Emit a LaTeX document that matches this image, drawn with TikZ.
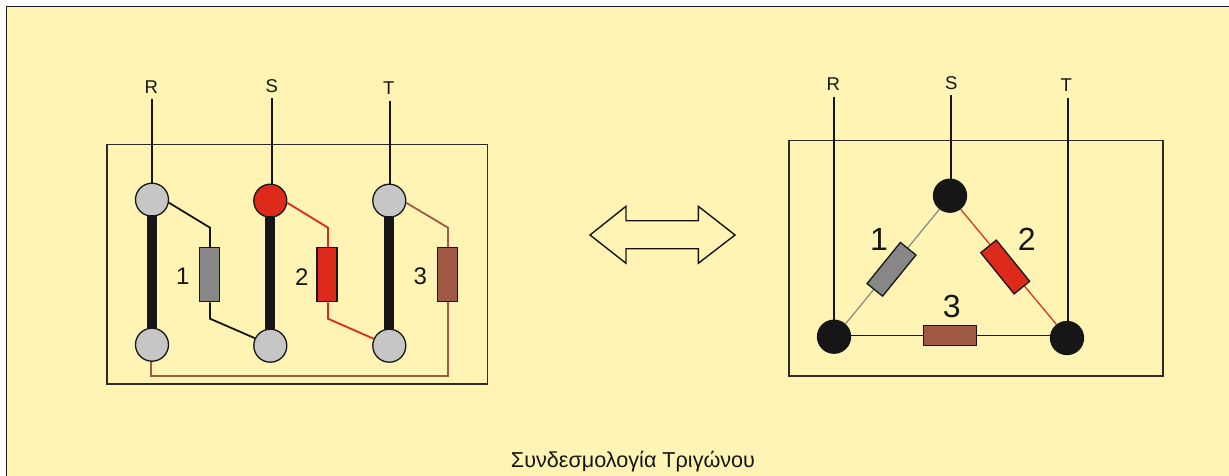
\documentclass[tikz,border=0pt]{standalone}
\usepackage{fontspec}
\setmainfont{Liberation Sans}
\definecolor{bgy}{HTML}{FFF4B3}
\definecolor{ink}{HTML}{161616}
\definecolor{lgray}{HTML}{C6C6C6}
\definecolor{mgray}{HTML}{878787}
\definecolor{myred}{HTML}{DE2A1A}
\definecolor{mybrown}{HTML}{A05A44}
\newcommand{\fs}[1]{\fontsize{#1}{#1}\selectfont}
\tikzset{
  x=1pt,y=-1pt,
  frame/.style={draw=ink!90!bgy,line width=1.6pt},
  term/.style={circle,draw=ink,line width=1.3pt,inner sep=0pt,minimum size=33pt},
  termg/.style={term,fill=lgray},
  termr/.style={term,fill=myred},
  termk/.style={term,fill=ink},
  res/.style={draw=ink,line width=1.3pt,inner sep=0pt,minimum width=20pt,minimum height=54pt},
  wire/.style={line width=1.8pt,draw=ink,line join=miter},
  thin wire/.style={line width=1.2pt},
  bar/.style={draw=ink,line width=10pt,shorten <=-2pt},
  lab/.style={inner sep=0pt,text=ink,font=\fs{18.5}},
  numl/.style={inner sep=0pt,text=ink,font=\fs{24}},
  numr/.style={inner sep=0pt,text=ink,font=\fs{32}},
}
\begin{document}
\begin{tikzpicture}
\useasboundingbox (0,0) rectangle (1229,476);
\fill[white] (0,0) rectangle (1229,476);
\fill[bgy] (6.5,6.5) rectangle (1229,476);
\draw[ink,line width=1.4pt] (6.5,476) -- (6.5,6.5) -- (1229,6.5);

% left panel
\draw[frame] (106.7,144.7) rectangle (487.3,384);
\node[lab] (lR) at (151.3,87.3) {R};
\node[lab] (lS) at (271.7,86) {S};
\node[lab] (lT) at (388.7,88) {T};
\coordinate (iR) at (152.3,99.3);
\coordinate (iS) at (271.7,98);
\coordinate (iT) at (390,100.7);
\node[termg] (crt) at (152,199.7) {};
\node[termr] (cst) at (270.3,200.7) {};
\node[termg] (ctt) at (389.3,200.7) {};
\node[termg] (crb) at (152,344.7) {};
\node[termg] (csb) at (270.3,345.7) {};
\node[termg] (ctb) at (389.3,345.7) {};
\draw[wire] (iR) -- (iR |- crt.north);
\draw[wire] (iS) -- (iS |- cst.north);
\draw[wire] (iT) -- (iT |- ctt.north);
\draw[bar] (crt) -- (crb);
\draw[bar] (cst) -- (csb);
\draw[bar] (ctt) -- (ctb);
\node[res,fill=mgray] (r1) at (209.3,274.8) {};
\node[res,fill=myred] (r2) at (327,274.8) {};
\node[res,fill=mybrown] (r3) at (447.5,274.8) {};
\coordinate (b1t) at (210,227.7);
\coordinate (b1b) at (210,318.7);
\coordinate (b2t) at (328,227.7);
\coordinate (b2b) at (328,318.7);
\coordinate (b3t) at (448,227.7);
\coordinate (b3b) at (448,376);
\coordinate (b3c) at (151,376);
\draw[wire] (crt.-10) -- (b1t) -- (b1t |- r1.north);
\draw[wire] (b1b |- r1.south) -- (b1b) -- (csb.154);
\draw[wire,myred] (cst.-7) -- (b2t) -- (b2t |- r2.north);
\draw[wire,myred] (b2b |- r2.south) -- (b2b) -- (ctb.156);
\draw[wire,mybrown] (ctt.-7) -- (b3t) -- (b3t |- r3.north);
\draw[wire,mybrown] (b3t |- r3.south) -- (b3b) -- (b3c) -- (b3c |- crb.south);
\node[numl] (n1) at (182.7,276.7) {1};
\node[numl] (n2) at (301.7,276.7) {2};
\node[numl] (n3) at (420.3,276.7) {3};

% arrow
\draw[draw=ink,line width=1.4pt,line join=miter] (590,235) -- (626,206.3) -- (626,220.7) -- (698.3,220.7) -- (698.3,206.3) -- (735,235) -- (698.3,263.3) -- (698.3,248.7) -- (626,248.7) -- (626,263.3) -- cycle;

% right panel
\draw[frame] (789,140.7) rectangle (1162.7,375.7);
\node[lab] (mR) at (833.3,84.3) {R};
\node[lab] (mS) at (951.3,83.3) {S};
\node[lab] (mT) at (1066.3,85) {T};
\coordinate (jR) at (834.3,96.7);
\coordinate (jS) at (951.3,95.3);
\coordinate (jT) at (1067.7,98);
\node[termk] (dS) at (950,195.7) {};
\node[termk] (dR) at (834,336.7) {};
\node[termk] (dT) at (1067,338) {};
\draw[wire] (jR) -- (jR |- dR.north);
\draw[wire] (jS) -- (jS |- dS.north);
\draw[wire] (jT) -- (jT |- dT.north);
\draw[thin wire,mgray] (dS.232) -- (dR.48);
\draw[thin wire,myred] (dS.-52) -- (dT.128);
\node[res,fill=mgray,rotate=-39,minimum height=53pt] (q1) at (891.5,269.3) {};
\node[res,fill=myred,rotate=39,minimum height=53pt] (q2) at (1005.2,267) {};
\node[res,fill=mybrown,rotate=90,minimum height=53.4pt] (q3) at (950,335.5) {};
\draw[wire] (dR.east |- q3.north) -- (q3.north);
\draw[wire] (q3.south) -- (dT.west |- q3.south);
\node[numr] (k1) at (879,239.3) {1};
\node[numr] (k2) at (1026.7,239.3) {2};
\node[numr] (k3) at (951.7,306) {3};

\node[inner sep=0pt,text=ink,font=\fs{21.6}] (cap) at (633,461.5) {Συνδεσμολογία Τριγώνου};
\end{tikzpicture}
\end{document}
